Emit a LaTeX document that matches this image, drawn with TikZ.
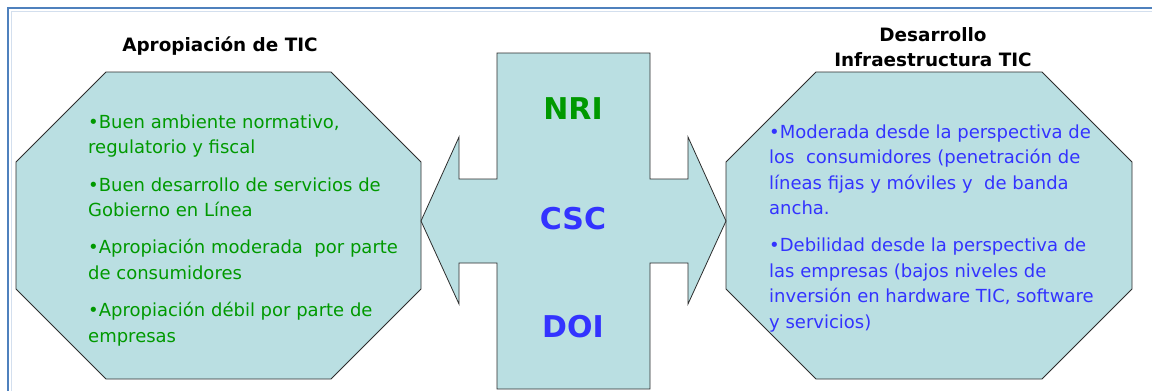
\documentclass[tikz,border=0pt]{standalone}
\usepackage{fontspec}
\setmainfont{DejaVu Sans}
\definecolor{fillc}{RGB}{186,223,226}
\definecolor{greent}{RGB}{0,153,0}
\definecolor{bluet}{RGB}{51,51,255}
\definecolor{framec}{RGB}{79,129,189}
\definecolor{edgec}{RGB}{45,45,45}
\begin{document}
\begin{tikzpicture}[x=1pt,y=-1pt,
  shapebox/.style={fill=fillc,draw=edgec,line width=0.8pt,line join=miter},
  titletext/.style={font=\fontsize{18.4}{25}\selectfont\bfseries,align=center,text=black,inner sep=0pt},
  bodytext/.style={font=\fontsize{18}{25.4}\selectfont,align=left,inner sep=0pt,anchor=base west},
  codetext/.style={font=\fontsize{30}{36}\selectfont\bfseries,inner sep=0pt,anchor=base}]
\useasboundingbox (0,0) rectangle (1152,391);
\fill[white] (0,0) rectangle (1152,391);
% frame
\draw[framec!25,line width=1pt] (11,391) -- (11,11) -- (1152,11);
\draw[framec,line width=2pt] (8,391) -- (8,8) -- (1152,8);
% left octagon
\draw[shapebox] (106,72) -- (331,72) -- (421,162) -- (421,289) -- (331,379) -- (106,379) -- (16,289) -- (16,162) -- cycle;
% right octagon
\draw[shapebox] (816,72) -- (1042,72) -- (1132,162) -- (1132,289) -- (1042,379) -- (816,379) -- (726,289) -- (726,162) -- cycle;
% central cross arrow
\draw[shapebox] (497,53) -- (650,53) -- (650,179) -- (688,179) -- (688,137) -- (726,221) -- (688,304) -- (688,263) -- (650,263) -- (650,389) -- (497,389) -- (497,263) -- (459,263) -- (459,304) -- (421,221) -- (459,137) -- (459,179) -- (497,179) -- cycle;
% titles
\node[titletext,anchor=base] (tleft) at (220,51) {Apropiación de TIC};
\node[titletext,anchor=base] (tright) at (933,66) {Desarrollo\\Infraestructura TIC};
% codes
\node[codetext,text=greent] (nri) at (573,119) {NRI};
\node[codetext,text=bluet] (csc) at (573,229) {CSC};
\node[codetext,text=bluet] (doi) at (573,337) {DOI};
% body texts (base anchor = last line)
\node[bodytext,text=greent] (lbody) at (88,342) {•Buen ambiente normativo,\\regulatorio y fiscal\\[12pt]•Buen desarrollo de servicios de\\Gobierno en Línea\\[12pt]•Apropiación moderada~ por parte\\de consumidores\\[12pt]•Apropiación débil por parte de\\empresas};
\node[bodytext,text=bluet] (rbody) at (769,328) {•Moderada desde la perspectiva de\\los~ consumidores (penetración de\\líneas fijas y móviles y~ de banda\\ancha.\\[12pt]•Debilidad desde la perspectiva de\\las empresas (bajos niveles de\\inversión en hardware TIC, software\\y servicios)};
\end{tikzpicture}
\end{document}
